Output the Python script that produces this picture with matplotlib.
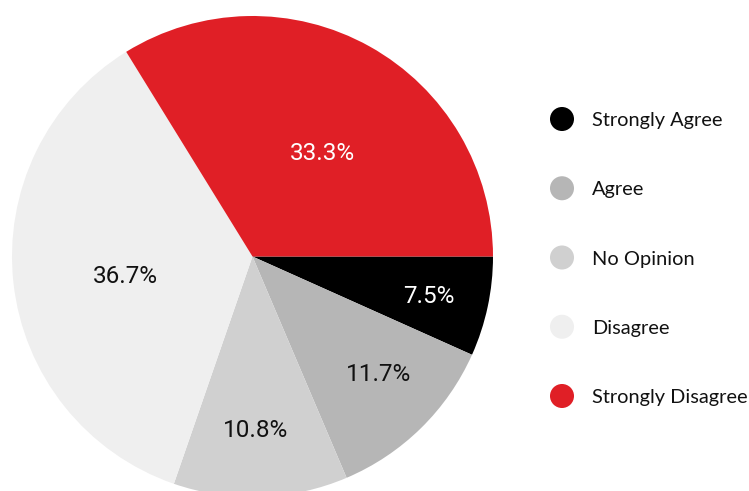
import matplotlib
matplotlib.use("Agg")
import matplotlib.pyplot as plt
import numpy as np

# Data
categories = ["Strongly Agree", "Agree", "No Opinion", "Disagree", "Strongly Disagree"]
slice_sizes = [6.7, 11.9, 11.7, 35.9, 33.8]          # wedge sizes as drawn
pct_labels = ["7.5%", "11.7%", "10.8%", "36.7%", "33.3%"]  # printed labels
colors = ["#000000", "#b6b6b6", "#d0d0d0", "#efefef", "#e01f26"]
label_colors = ["white", "#111111", "#111111", "#111111", "white"]
label_dist = [0.75, 0.71, 0.715, 0.535, 0.525]
label_angle_shift = [0, 3, -0.8, 1.4, -4.3]

W, H = 749, 491
fig = plt.figure(figsize=(W / 100, H / 100), dpi=100)

# Pie axes: centre (252.5, 256.5) px, radius 240.5 px
cx, cy, r = 252.5, 256.5, 240.5
ax = fig.add_axes([(cx - r) / W, (H - (cy + r)) / H, 2 * r / W, 2 * r / H])
wedges, _ = ax.pie(slice_sizes, colors=colors, startangle=0, counterclock=False,
                   radius=1.0, wedgeprops=dict(linewidth=0))
ax.set_xlim(-1, 1)
ax.set_ylim(-1, 1)
ax.set_aspect("auto")
ax.axis("off")

for w, lab, col, d, sh in zip(wedges, pct_labels, label_colors, label_dist, label_angle_shift):
    ang = np.deg2rad((w.theta1 + w.theta2) / 2 + sh)
    ax.text(d * np.cos(ang), d * np.sin(ang) - 0.01, lab, ha="center", va="center",
            color=col, fontsize=17.5, family=["Roboto", "DejaVu Sans"])

# Legend axes
top_px, unit = 119 - 69.25 / 2, 69.25
lax = fig.add_axes([540 / W, (H - (top_px + 5 * unit)) / H, 209 / W, 5 * unit / H])
lax.set_xlim(0, 209)
lax.set_ylim(4.5, -0.5)
lax.axis("off")
ys = list(range(len(categories)))
lax.scatter([22] * len(ys), ys, s=17.3 ** 2, c=colors, linewidths=0, clip_on=False)
for y, name in zip(ys, categories):
    lax.text(52, y, name, ha="left", va="center_baseline", fontsize=14.4,
             color="#111111", family=["Lato", "DejaVu Sans"], clip_on=False)

fig.savefig("out.png", dpi=100)
